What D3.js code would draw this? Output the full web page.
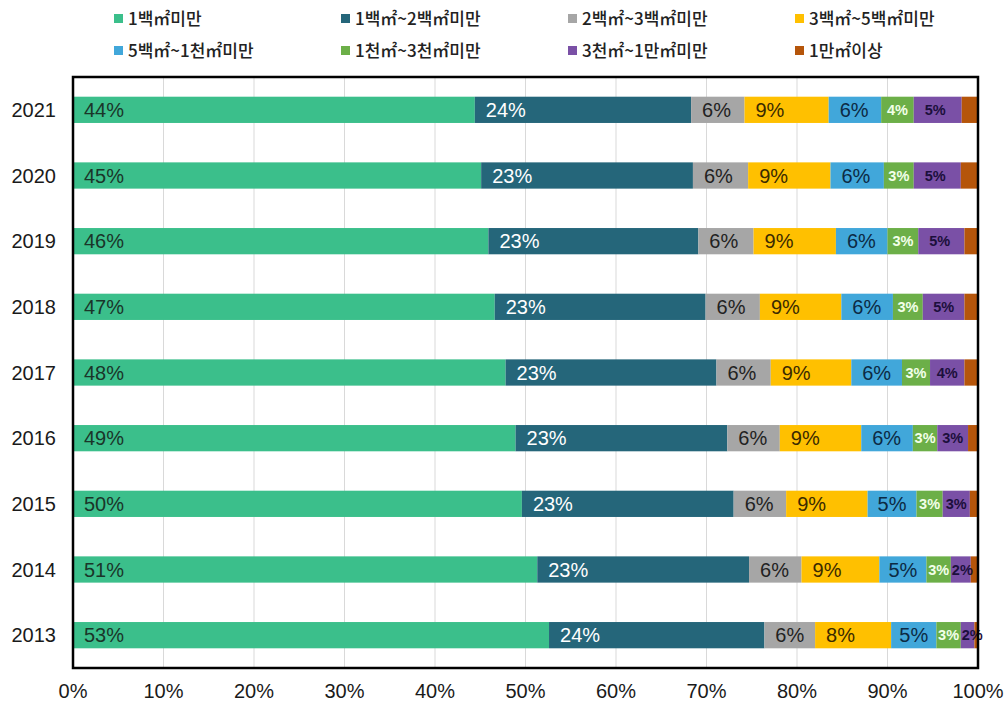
<!DOCTYPE html>
<html>
<head>
<meta charset="utf-8">
<script src="https://cdn.jsdelivr.net/npm/d3@7"></script>
<style>
  body { margin: 0; background: #fff; }
  svg { display: block; }
</style>
</head>
<body>
<div id="chart"></div>
<script>
    var years = ['2021', '2020', '2019', '2018', '2017', '2016', '2015', '2014', '2013'];

    var categories = ['1백㎡미만', '1백㎡~2백㎡미만', '2백㎡~3백㎡미만', '3백㎡~5백㎡미만',
        '5백㎡~1천㎡미만', '1천㎡~3천㎡미만', '3천㎡~1만㎡미만', '1만㎡이상'];

    // share (%) of each size class, one list per year, same order as categories
    var share2021 = [44.4, 23.9, 5.9, 9.3, 5.8, 3.6, 5.3, 1.8];
    var share2020 = [45.1, 23.4, 6.1, 9.1, 5.9, 3.3, 5.2, 1.9];
    var share2019 = [45.9, 23.2, 6.1, 9.1, 5.7, 3.4, 5.1, 1.5];
    var share2018 = [46.6, 23.3, 6.0, 9.0, 5.7, 3.3, 4.6, 1.5];
    var share2017 = [47.8, 23.3, 6.0, 8.9, 5.6, 3.1, 3.8, 1.5];
    var share2016 = [48.9, 23.4, 5.8, 9.0, 5.7, 2.7, 3.4, 1.1];
    var share2015 = [49.6, 23.4, 5.8, 9.0, 5.4, 2.9, 3.0, 0.9];
    var share2014 = [51.3, 23.4, 5.8, 8.6, 5.2, 2.7, 2.2, 0.8];
    var share2013 = [52.6, 23.8, 5.6, 8.4, 5.0, 2.7, 1.5, 0.4];

    var shares = [share2021, share2020, share2019, share2018, share2017,
        share2016, share2015, share2014, share2013];

    var xTicks = [0, 10, 20, 30, 40, 50, 60, 70, 80, 90, 100];

    var colors = ['#3bbf8b', '#25667a', '#a6a6a6', '#ffc000', '#41a7da', '#6caf48', '#7a50a6', '#b5550a'];
    var labelColors = ['#1a3529', '#ffffff', '#222222', '#3a2a00', '#0c2a44', '#f2ffe8', '#1c0f3c', null];

    var width = 1008;
    var height = 701;
    var margin = { top: 77, right: 30, bottom: 33, left: 73 };

    var svg = d3.select('#chart')
        .append('svg')
        .attr('width', width)
        .attr('height', height);

    var x = d3.scaleLinear()
        .domain([0, 100])
        .range([margin.left, width - margin.right]);

    var y = d3.scaleBand()
        .domain(years)
        .range([margin.top, height - margin.bottom])
        .paddingInner(0.6)
        .paddingOuter(0.3);

    // grid
    svg.append('g')
        .selectAll('line')
        .data(xTicks)
        .enter()
        .append('line')
        .attr('x1', function(d) { return x(d); })
        .attr('x2', function(d) { return x(d); })
        .attr('y1', margin.top)
        .attr('y2', height - margin.bottom)
        .attr('stroke', '#d9d9d9')
        .attr('stroke-width', 1);

    // stacked rows
    var rows = years.map(function(yr, i) {
        var acc = 0;
        return shares[i].map(function(v, k) {
            var seg = { year: yr, k: k, v: v, x0: acc, x1: acc + v };
            acc += v;
            return seg;
        });
    });

    var row = svg.append('g')
        .selectAll('g')
        .data(rows)
        .enter()
        .append('g');

    row.selectAll('rect')
        .data(function(d) { return d; })
        .enter()
        .append('rect')
        .attr('x', function(d) { return x(d.x0); })
        .attr('width', function(d) { return x(d.x1) - x(d.x0); })
        .attr('y', function(d) { return y(d.year); })
        .attr('height', y.bandwidth())
        .attr('fill', function(d) { return colors[d.k]; });

    row.selectAll('text')
        .data(function(d) { return d.filter(function(s) { return labelColors[s.k]; }); })
        .enter()
        .append('text')
        .attr('y', function(d) { return y(d.year) + y.bandwidth() / 2; })
        .attr('dy', '0.36em')
        .attr('font-family', '"Liberation Sans", Arial, sans-serif')
        .attr('font-size', function(d) { return d.k >= 5 ? 14.5 : 20; })
        .attr('font-weight', function(d) { return d.k >= 5 ? 'bold' : 'normal'; })
        .attr('fill', function(d) { return labelColors[d.k]; })
        .text(function(d) { return Math.round(d.v) + '%'; })
        .attr('x', function(d) {
            var w = x(d.x1) - x(d.x0);
            var tw = this.getComputedTextLength();
            var pad = Math.max(1, Math.min(11, (w - tw) / 2));
            return x(d.x0) + pad;
        });

    // frame
    svg.append('rect')
        .attr('x', margin.left)
        .attr('y', margin.top)
        .attr('width', x(100) - x(0))
        .attr('height', height - margin.bottom - margin.top)
        .attr('fill', 'none')
        .attr('stroke', '#000')
        .attr('stroke-width', 2.5);

    // year labels
    svg.append('g')
        .selectAll('text')
        .data(years)
        .enter()
        .append('text')
        .attr('x', margin.left - 17)
        .attr('y', function(d) { return y(d) + y.bandwidth() / 2; })
        .attr('dy', '0.36em')
        .attr('text-anchor', 'end')
        .attr('font-family', '"Liberation Sans", Arial, sans-serif')
        .attr('font-size', 20)
        .attr('fill', '#1a1a1a')
        .text(function(d) { return d; });

    // percent axis labels
    svg.append('g')
        .selectAll('text')
        .data(xTicks)
        .enter()
        .append('text')
        .attr('x', function(d) { return x(d); })
        .attr('y', 691)
        .attr('dy', '0.36em')
        .attr('text-anchor', 'middle')
        .attr('font-family', '"Liberation Sans", Arial, sans-serif')
        .attr('font-size', 20)
        .attr('fill', '#1a1a1a')
        .text(function(d) { return d + '%'; });

    // legend, two rows of four
    var legend = svg.append('g')
        .selectAll('g')
        .data(categories)
        .enter()
        .append('g')
        .attr('transform', function(d, i) {
            var col = i % 4;
            var r = Math.floor(i / 4);
            return 'translate(' + (114 + col * 227) + ',' + (19 + r * 32) + ')';
        });

    legend.append('rect')
        .attr('x', 0)
        .attr('y', -5)
        .attr('width', 9)
        .attr('height', 9)
        .attr('fill', function(d, i) { return colors[i]; });

    legend.append('text')
        .attr('x', 14)
        .attr('y', 0)
        .attr('dy', '0.35em')
        .attr('font-family', '"Noto Sans CJK KR", sans-serif')
        .attr('font-size', 17)
        .attr('font-weight', 500)
        .attr('fill', '#222')
        .text(function(d) { return d; });
</script>
</body>
</html>
